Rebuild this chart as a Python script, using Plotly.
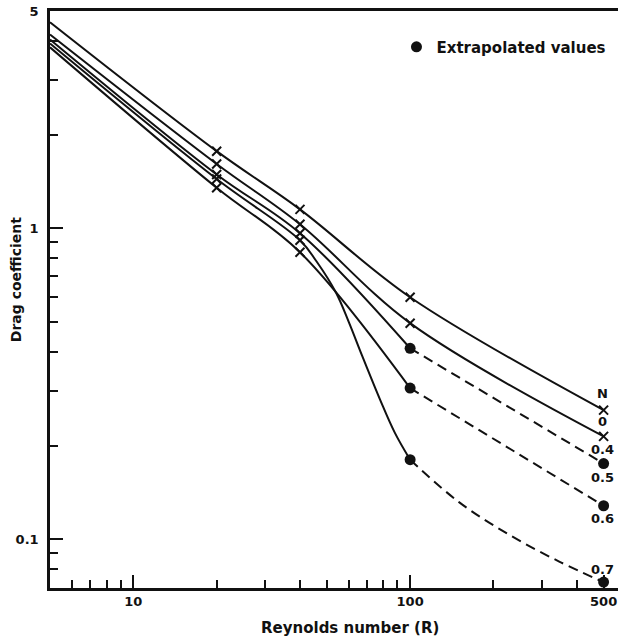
import math
import plotly.graph_objects as go

# ---------------- data ----------------
reynolds = [5, 20, 40, 100, 500]          # measured / extrapolated Reynolds numbers
cd_N  = [4.6, 1.77, 1.15, 0.60, 0.26]
cd_04 = [4.2, 1.61, 1.03, 0.495, 0.214]
cd_05 = [4.05, 1.49, 0.964, 0.411, 0.175]
cd_06 = [3.82, 1.35, 0.837, 0.306, 0.128]
cd_07 = [3.93, 1.44, 0.915, 0.180, 0.0727]

# extra points (sharp drop, curved tail)
re_07_drop = [46, 54, 60, 67, 78, 88]
cd_07_drop = [0.78, 0.62, 0.50, 0.39, 0.28, 0.22]
re_07_tail = [151, 229, 347]
cd_07_tail = [0.131, 0.103, 0.0845]

x_tick_vals = [10, 100, 500]
x_tick_text = ["10", "100", "500"]
x_minor_vals = [6, 7, 8, 9, 20, 30, 40, 50, 60, 70, 80, 90, 200, 300, 400]
y_tick_vals = [0.1, 1, 5]
y_tick_text = ["0.1", "1", "5"]
y_minor_vals = [0.08, 0.09, 0.2, 0.3, 0.4, 0.5, 0.6, 0.7, 0.8, 0.9, 2, 3, 4]

end_labels = ["N", "0", "0.4", "0.5", "0.6", "0.7"]
# ---------------------------------------------------------------

FONT = "DejaVu Sans"
BLACK = "#111111"
LW = 2

fig = go.Figure()

def line(x, y, dash="solid"):
    fig.add_trace(go.Scatter(
        x=x, y=y, mode="lines",
        line=dict(color=BLACK, width=LW, shape="spline", smoothing=1.0, dash=dash),
        hoverinfo="skip", showlegend=False, cliponaxis=False))

# fully measured curves
line(reynolds, cd_N)
line(reynolds, cd_04)
# curves with extrapolated part beyond R = 100
line(reynolds[:4], cd_05[:4])
line(reynolds[3:], cd_05[3:], dash="10px,6px")
line(reynolds[:4], cd_06[:4])
line(reynolds[3:], cd_06[3:], dash="10px,6px")
line(reynolds[:3] + re_07_drop + [reynolds[3]], cd_07[:3] + cd_07_drop + [cd_07[3]])
line([reynolds[3]] + re_07_tail + [reynolds[4]], [cd_07[3]] + cd_07_tail + [cd_07[4]], dash="10px,6px")

# cross markers (computed values)
xs = reynolds + reynolds + reynolds[:3] * 3
ys = cd_N + cd_04 + cd_05[:3] + cd_06[:3] + cd_07[:3]
fig.add_trace(go.Scatter(
    x=xs, y=ys, mode="markers",
    marker=dict(symbol="x-thin", size=9, line=dict(color=BLACK, width=2)),
    hoverinfo="skip", showlegend=False, cliponaxis=False))

# extrapolated values (filled circles)
fig.add_trace(go.Scatter(
    x=reynolds[3:] * 3, y=cd_05[3:] + cd_06[3:] + cd_07[3:], mode="markers",
    marker=dict(symbol="circle", size=11, color=BLACK),
    name="Extrapolated values", showlegend=True, hoverinfo="skip", cliponaxis=False))

# end labels
anchors = [cd_N[4], cd_N[4], cd_04[4], cd_05[4], cd_06[4], cd_07[4]]
shifts = [17, -11, -13, -14, -13, 13]
for txt, yv, sh in zip(end_labels, anchors, shifts):
    fig.add_annotation(x=math.log10(reynolds[4]), y=math.log10(yv), text=txt,
                       showarrow=False, yshift=sh, xshift=-1,
                       font=dict(family=FONT, size=13, color=BLACK, weight="bold"))

# axis titles
fig.add_annotation(xref="paper", yref="paper", x=-0.06, y=0.535, text="Drag coefficient",
                   textangle=-90, showarrow=False, xanchor="center", yanchor="middle",
                   font=dict(family=FONT, size=14, color=BLACK, weight="bold"))
fig.add_annotation(xref="paper", yref="paper", x=0.528, y=-0.069, text="Reynolds number (R)",
                   showarrow=False, xanchor="center", yanchor="middle",
                   font=dict(family=FONT, size=15, color=BLACK, weight="bold"))

axis_common = dict(
    type="log", showgrid=False, zeroline=False,
    showline=True, linecolor=BLACK, linewidth=2.5,
    ticks="inside", ticklen=13, tickwidth=2, tickcolor=BLACK,
    tickfont=dict(family=FONT, size=13, color=BLACK, weight="bold"),
)

fig.update_layout(
    width=622, height=644,
    margin=dict(l=50, r=4, t=11, b=56),
    paper_bgcolor="white", plot_bgcolor="white",
    font=dict(family=FONT, size=13, color=BLACK),
    xaxis=dict(
        **axis_common, mirror=True,
        range=[math.log10(5), 2.751],
        tickmode="array", tickvals=x_tick_vals, ticktext=x_tick_text,
        minor=dict(tickmode="array", tickvals=x_minor_vals, ticks="inside",
                   ticklen=8, tickwidth=1.5, tickcolor=BLACK, showgrid=False),
    ),
    yaxis=dict(
        **axis_common, mirror=False,
        range=[math.log10(0.0696), math.log10(5)],
        tickmode="array", tickvals=y_tick_vals, ticktext=y_tick_text,
        ticklabelstandoff=6,
        minor=dict(tickmode="array", tickvals=y_minor_vals, ticks="inside",
                   ticklen=8, tickwidth=1.5, tickcolor=BLACK, showgrid=False),
    ),
    legend=dict(x=0.61, y=0.966, xanchor="left", yanchor="top",
                bgcolor="rgba(0,0,0,0)", borderwidth=0,
                font=dict(family=FONT, size=15, color=BLACK, weight="bold")),
)

fig.write_html("out.html")
